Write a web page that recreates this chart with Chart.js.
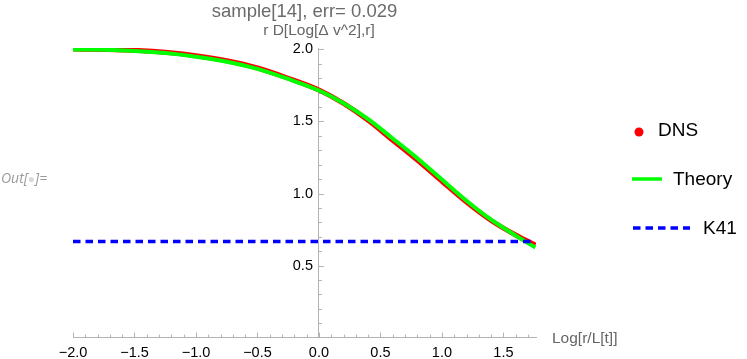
<!DOCTYPE html>
<html>
<head>
<meta charset="utf-8">
<script src="https://cdn.jsdelivr.net/npm/chart.js@4.4.1/dist/chart.umd.min.js"></script>
<style>
body { margin: 0; background: #fff; }
#wrap { position: relative; width: 747px; height: 359px; }
#out { position: absolute; left: 1px; top: 168px; font: italic 14px "Open Sans", sans-serif; color: #9a9a9a; }
#out span { color: #d8d8d8; font-style: normal; font-size: 12px; }
</style>
</head>
<body>
<div id="wrap">
  <canvas id="c" width="747" height="359"></canvas>
  <div id="out">Out[<span>●</span>]=</div>
</div>
<script>
// 데이터: Log[r/L[t]] 값과 각 곡선의 값
const xValues = [-2.0, -1.75, -1.5, -1.25, -1.0, -0.75, -0.5, -0.25, 0.0, 0.2, 0.4, 0.6, 0.8, 1.0, 1.2, 1.4, 1.6, 1.76];
const dnsValues = [2.003, 2.0, 1.994, 1.98, 1.956, 1.921, 1.871, 1.80, 1.718, 1.625, 1.508, 1.37, 1.232, 1.085, 0.94, 0.813, 0.712, 0.642];
const theoryValues = [2.0, 1.998, 1.99, 1.975, 1.95, 1.915, 1.865, 1.795, 1.715, 1.627, 1.516, 1.382, 1.245, 1.097, 0.95, 0.818, 0.708, 0.625];
const k41Value = 0.667;

const xTickValues = [-2.0, -1.5, -1.0, -0.5, 0.0, 0.5, 1.0, 1.5];
const yTickValues = [0.5, 1.0, 1.5, 2.0];

const titleText = "sample[14], err= 0.029";
const yLabel = "r D[Log[Δ v^2],r]";
const xLabel = "Log[r/L[t]]";

const FONT = "'Liberation Sans', Arial, sans-serif";
const axisColor = "#b3b3b3";

function fmt(v) {
    const s = Math.abs(v).toFixed(1);
    return v < 0 ? "\u2212" + s : s;
}

// 축 눈금, y축 숫자, 제목, 범례를 그리는 플러그인
const decor = {
    id: "decor",
    beforeDatasetsDraw(chart) {
        const {ctx, scales: {x, y}} = chart;
        const y0 = y.getPixelForValue(0);
        const x0 = x.getPixelForValue(0);
        ctx.save();
        ctx.strokeStyle = axisColor;
        ctx.lineWidth = 1;
        ctx.beginPath();
        for (let i = -20; i <= 17; i++) {
            const px = Math.round(x.getPixelForValue(i / 10)) + 0.5;
            const len = i % 5 === 0 ? 5 : 3;
            ctx.moveTo(px, y0); ctx.lineTo(px, y0 - len);
        }
        for (let i = 1; i <= 20; i++) {
            const py = Math.round(y.getPixelForValue(i / 10)) + 0.5;
            const len = i % 5 === 0 ? 5 : 3;
            ctx.moveTo(x0, py); ctx.lineTo(x0 + len, py);
        }
        ctx.stroke();
        // y축 숫자 (축 왼쪽)
        ctx.fillStyle = "#000";
        ctx.font = "14.5px " + FONT;
        ctx.textAlign = "right";
        ctx.textBaseline = "middle";
        for (const t of y.ticks) {
            ctx.fillText(fmt(t.value), x0 - 6, y.getPixelForValue(t.value));
        }
        ctx.restore();
    },
    afterDraw(chart) {
        const {ctx, chartArea, scales: {x, y}} = chart;
        ctx.save();
        ctx.textBaseline = "middle";
        // 제목
        ctx.fillStyle = "#6b6b6b";
        ctx.font = "18.5px " + FONT;
        ctx.textAlign = "center";
        ctx.fillText(titleText, (chartArea.left + chartArea.right) / 2, 12);
        // y축 이름
        ctx.fillStyle = "#666";
        ctx.font = "15.5px " + FONT;
        ctx.fillText(yLabel, x.getPixelForValue(0), 31);
        // x축 이름
        ctx.textAlign = "left";
        ctx.fillText(xLabel, chartArea.right + 16, y.getPixelForValue(0) + 1);
        // 범례
        ctx.font = "19px " + FONT;
        ctx.fillStyle = "#000";
        ctx.fillText("DNS", 658, 131);
        ctx.fillText("Theory", 673, 180);
        ctx.fillText("K41", 703, 229);
        ctx.fillStyle = "#ff0000";
        ctx.beginPath(); ctx.arc(639, 132, 4.5, 0, Math.PI * 2); ctx.fill();
        ctx.strokeStyle = "#00ff00"; ctx.lineWidth = 3.5;
        ctx.beginPath(); ctx.moveTo(632, 179); ctx.lineTo(662, 179); ctx.stroke();
        ctx.strokeStyle = "#0000ff"; ctx.setLineDash([7.5, 5]);
        ctx.beginPath(); ctx.moveTo(633, 228); ctx.lineTo(690, 228); ctx.stroke();
        ctx.restore();
    }
};

new Chart(document.getElementById("c"), {
    type: "scatter",
    data: {
        datasets: [
            {
                label: "K41", order: 0,
                data: [{x: xValues[0], y: k41Value}, {x: xValues[xValues.length - 1], y: k41Value}],
                showLine: true, borderColor: "#0000ff", borderWidth: 3.5, borderDash: [7.5, 5],
                pointRadius: 0,
            },
            {
                label: "Theory", order: 1,
                data: xValues.map((v, i) => ({x: v, y: theoryValues[i]})),
                showLine: true, borderColor: "#00ff00", borderWidth: 4,
                cubicInterpolationMode: "monotone", pointRadius: 0,
            },
            {
                label: "DNS", order: 2,
                data: xValues.map((v, i) => ({x: v, y: dnsValues[i]})),
                showLine: true, borderColor: "#ff0000", borderWidth: 5,
                cubicInterpolationMode: "monotone", pointRadius: 0,
            },
        ],
    },
    options: {
        responsive: false,
        animation: false,
        layout: {padding: {left: 73, right: 211, top: 48, bottom: -10}},
        plugins: {legend: {display: false}, tooltip: {enabled: false}},
        scales: {
            x: {
                type: "linear", min: -2.0, max: 1.765,
                afterBuildTicks: s => { s.ticks = xTickValues.map(v => ({value: v})); },
                grid: {display: false, drawTicks: false},
                border: {color: axisColor},
                ticks: {callback: v => fmt(v), color: "#000", font: {family: FONT, size: 14.5}, padding: 7, maxRotation: 0},
            },
            y: {
                type: "linear", min: 0, max: 2.01, position: {x: 0},
                afterBuildTicks: s => { s.ticks = yTickValues.map(v => ({value: v})); },
                grid: {display: false, drawTicks: false},
                border: {color: axisColor},
                ticks: {display: false},
            },
        },
    },
    plugins: [decor],
});
</script>
</body>
</html>
